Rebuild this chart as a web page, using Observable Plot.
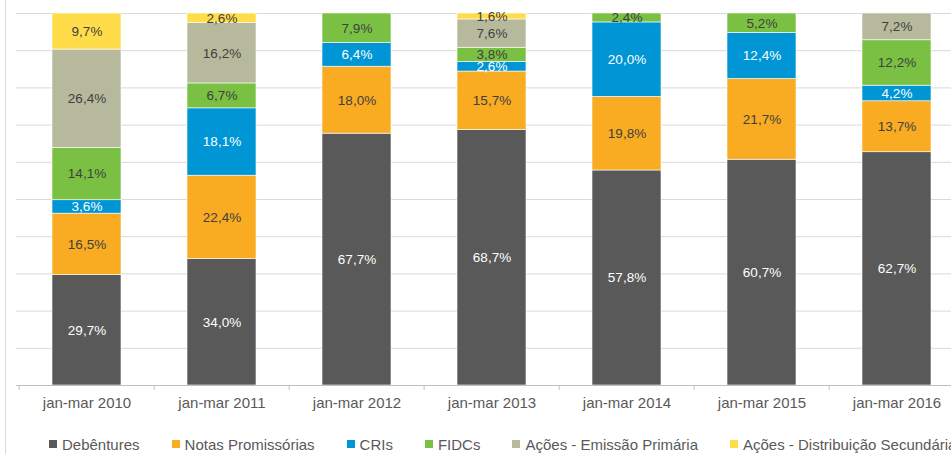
<!DOCTYPE html>
<html>
<head>
<meta charset="utf-8">
<script src="https://cdn.jsdelivr.net/npm/d3@7"></script>
<script src="https://cdn.jsdelivr.net/npm/@observablehq/plot@0.6"></script>
<style>
  html, body { margin: 0; padding: 0; background: #fff; }
  body { width: 951px; height: 454px; overflow: hidden; position: relative; font-family: "Liberation Sans", Arial, sans-serif; }
  #frame { position: absolute; left: 5px; top: 0; width: 0; height: 454px; border-left: 1px solid #D9D9D9; }
  #chart svg { display: block; overflow: hidden; }
  #legend { display: flex; align-items: center; padding-left: 49px; padding-top: 9px; height: 20px; font-size: 15px; color: #595959; white-space: nowrap; }
  #legend .item { display: flex; align-items: center; margin-right: 32px; }
  #legend .sw { width: 8px; height: 8px; margin-right: 5px; }
</style>
</head>
<body>
<div id="frame"></div>
<div id="chart"></div>
<div id="legend"></div>
<script>
const categories = ["jan-mar 2010", "jan-mar 2011", "jan-mar 2012", "jan-mar 2013", "jan-mar 2014", "jan-mar 2015", "jan-mar 2016"];
const seriesNames = ["Debêntures", "Notas Promissórias", "CRIs", "FIDCs", "Ações - Emissão Primária", "Ações - Distribuição Secundária"];
const debentures = [29.7, 34.0, 67.7, 68.7, 57.8, 60.7, 62.7];
const notasPromissorias = [16.5, 22.4, 18.0, 15.7, 19.8, 21.7, 13.7];
const cris = [3.6, 18.1, 6.4, 2.6, 20.0, 12.4, 4.2];
const fidcs = [14.1, 6.7, 7.9, 3.8, 2.4, 5.2, 12.2];
const acoesPrimaria = [26.4, 16.2, 0, 7.6, 0, 0, 7.2];
const acoesSecundaria = [9.7, 2.6, 0, 1.6, 0, 0, 0];
const colors = ["#595959", "#F9AB21", "#0096D6", "#7AC143", "#B6B99C", "#FFDD4A"];

const seriesValues = [debentures, notasPromissorias, cris, fidcs, acoesPrimaria, acoesSecundaria];
const data = [];
categories.forEach((c, i) => {
  seriesNames.forEach((s, j) => {
    data.push({category: c, series: s, value: seriesValues[j][i]});
  });
});
const fmt = v => v.toFixed(1).replace(".", ",") + "%";
const whiteText = new Set(["Debêntures", "CRIs"]);

const W = 951, H = 425;
const x0 = 16, x1 = 966;
const step = (x1 - x0) / categories.length;

const plot = Plot.plot({
  width: W,
  height: H,
  marginLeft: 16,
  marginRight: 0,
  marginTop: 13,
  marginBottom: 40,
  style: {fontFamily: "Liberation Sans, Arial, sans-serif", background: "#fff"},
  x: {type: "band", domain: categories, range: [x0, x1], paddingInner: 0.49, paddingOuter: 0.245, label: null},
  y: {domain: [0, 100], label: null, axis: null},
  color: {domain: seriesNames, range: colors},
  marks: [
    Plot.ruleY(d3.range(10, 101, 10), {stroke: "#D9D9D9", strokeWidth: 1}),
    Plot.barY(data.filter(d => d.value > 0), Plot.stackY({
      x: "category", y: "value", z: "series", fill: "series",
      order: seriesNames, stroke: "#fff", strokeWidth: 0.6
    })),
    Plot.text(data.filter(d => d.value > 0), Plot.stackY({
      x: "category", y: "value", z: "series", order: seriesNames,
      text: d => fmt(d.value),
      fill: d => whiteText.has(d.series) ? "#ffffff" : "#404040",
      fontSize: 13.5
    })),
    Plot.ruleY([0], {stroke: "#BFBFBF", strokeWidth: 1}),
    Plot.ruleX(categories, {x: d => d, y1: 0, y2: 0, dx: -step / 2, insetBottom: -5, stroke: "#BFBFBF"}),
    Plot.axisX({tickSize: 0, tickPadding: 12, fontSize: 15, fill: "#595959", label: null})
  ]
});
document.getElementById("chart").appendChild(plot);

const legend = document.getElementById("legend");
seriesNames.forEach((s, i) => {
  const item = document.createElement("div");
  item.className = "item";
  const sw = document.createElement("span");
  sw.className = "sw";
  sw.style.background = colors[i];
  const t = document.createElement("span");
  t.textContent = s;
  item.appendChild(sw);
  item.appendChild(t);
  legend.appendChild(item);
});
</script>
</body>
</html>
